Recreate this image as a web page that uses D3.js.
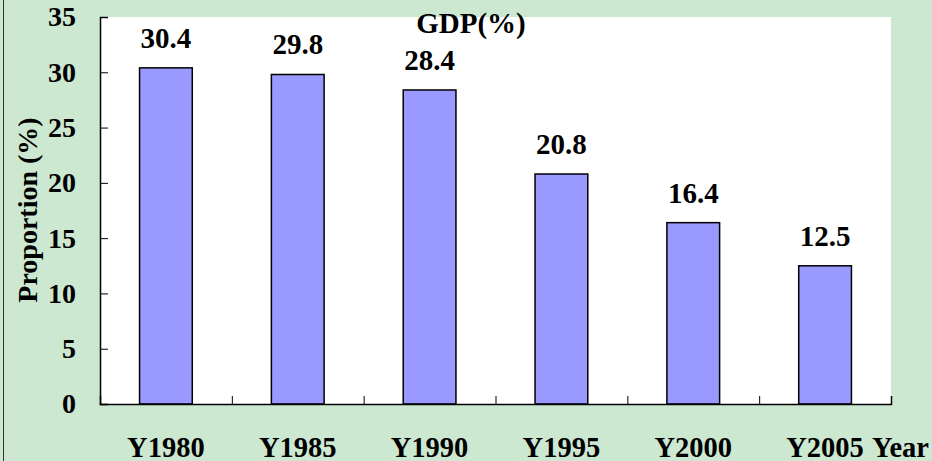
<!DOCTYPE html>
<html>
<head>
<meta charset="utf-8">
<script src="https://cdn.jsdelivr.net/npm/d3@7"></script>
<style>
  html, body { margin: 0; padding: 0; background: #cde8d1; }
  svg { display: block; }
  text { font-family: "Liberation Serif", "Times New Roman", serif; font-weight: bold; fill: #000; }
</style>
</head>
<body>
<div id="chart"></div>
<script>
const years = ['Y1980', 'Y1985', 'Y1990', 'Y1995', 'Y2000', 'Y2005'];
const shares = [30.4, 29.8, 28.4, 20.8, 16.4, 12.5];
const yTicks = [0, 5, 10, 15, 20, 25, 30, 35];

const W = 932, H = 461;
const margin = { top: 17, right: 41, bottom: 57, left: 100 };
const iw = W - margin.left - margin.right;
const ih = H - margin.top - margin.bottom;

const svg = d3.select('#chart').append('svg')
  .attr('width', W)
  .attr('height', H);

svg.append('rect').attr('width', W).attr('height', H).attr('fill', '#cde8d1');
// left frame line
svg.append('line')
  .attr('x1', 3.5).attr('x2', 3.5).attr('y1', 0).attr('y2', H)
  .attr('stroke', '#333').attr('stroke-width', 1);

const g = svg.append('g').attr('transform', `translate(${margin.left},${margin.top})`);

g.append('rect').attr('width', iw).attr('height', ih).attr('fill', '#fff');

const x = d3.scaleBand().domain(years).range([0, iw]).paddingInner(0.6).paddingOuter(0.3);
const xb = d3.scaleLinear().domain([0, years.length]).range([0, iw]);
const y = d3.scaleLinear().domain([0, 35]).range([ih, 0]);

// bars
g.selectAll('.bar').data(years).enter().append('rect')
  .attr('class', 'bar')
  .attr('x', d => x(d))
  .attr('width', x.bandwidth())
  .attr('y', (d, i) => y(shares[i]))
  .attr('height', (d, i) => ih - y(shares[i]))
  .attr('fill', '#9999ff')
  .attr('stroke', '#000')
  .attr('stroke-width', 1.5);

// value labels
g.selectAll('.val').data(years).enter().append('text')
  .attr('class', 'val')
  .attr('x', d => x(d) + x.bandwidth() / 2)
  .attr('y', (d, i) => y(shares[i]) - 20)
  .attr('text-anchor', 'middle')
  .style('font-size', '29px')
  .text((d, i) => shares[i].toFixed(1));

// y axis
const yAxis = g.append('g')
  .call(d3.axisLeft(y).tickValues(yTicks).tickSize(-8).tickPadding(24));
yAxis.select('.domain').attr('stroke', '#000').attr('stroke-width', 1.5);
yAxis.selectAll('.tick line').attr('stroke', '#000');
yAxis.selectAll('.tick text')
  .style('font-family', '"Liberation Serif", serif')
  .style('font-weight', 'bold')
  .style('font-size', '28px');

// x axis: category boundary ticks
const xAxis = g.append('g').attr('transform', `translate(0,${ih})`)
  .call(d3.axisBottom(xb).tickValues(d3.range(1, years.length + 1)).tickSize(-8).tickFormat(''));
xAxis.select('.domain').attr('stroke', '#000').attr('stroke-width', 1.5);
xAxis.selectAll('.tick line').attr('stroke', '#000');

// x labels
g.selectAll('.xl').data(years).enter().append('text')
  .attr('class', 'xl')
  .attr('x', d => x(d) + x.bandwidth() / 2)
  .attr('y', ih + 53)
  .attr('text-anchor', 'middle')
  .style('font-size', '28.5px')
  .text(d => d);

svg.append('text')
  .attr('x', 872).attr('y', H - 4)
  .style('font-size', '28.5px')
  .text('Year');

// y title
svg.append('text')
  .attr('transform', 'translate(37,210) rotate(-90)')
  .attr('text-anchor', 'middle')
  .style('font-size', '28px')
  .text('Proportion (%)');

// partial title
svg.append('text')
  .attr('x', 471).attr('y', 33)
  .attr('text-anchor', 'middle')
  .style('font-size', '29px')
  .text('GDP(%)');
</script>
</body>
</html>
